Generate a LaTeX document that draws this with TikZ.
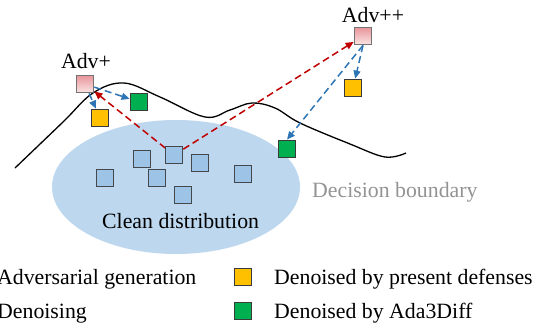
\documentclass[tikz,border=0pt]{standalone}
\usepackage{fontspec}
\setmainfont{Liberation Serif}
\newfontfamily\labelfont{Liberation Serif}
\usetikzlibrary{arrows.meta}
\definecolor{advred}{HTML}{C00000}
\definecolor{denblue}{HTML}{2E75B6}
\definecolor{cleanfill}{HTML}{9DC3E6}
\definecolor{cloud}{HTML}{BDD7EE}
\definecolor{defyellow}{HTML}{FFC000}
\definecolor{adagreen}{HTML}{00B050}
\definecolor{pinktop}{HTML}{E8959A}
\definecolor{pinkbot}{HTML}{FBE4E4}
\definecolor{boxedge}{HTML}{3A3A3A}
\tikzset{
  sq/.style={minimum size=17.5pt, inner sep=0pt, draw=boxedge, line width=1.3pt},
  cleansq/.style={sq, fill=cleanfill, draw=boxedge!90!cleanfill},
  yelsq/.style={sq, fill=defyellow},
  grnsq/.style={sq, fill=adagreen},
  advsq/.style={sq, draw=gray!90!black, line width=1.2pt, top color=pinktop, bottom color=pinkbot},
  lbl/.style={inner sep=0pt, font=\labelfont\fontsize{21.8}{26}\selectfont},
  gen/.style={advred, line width=1.5pt, dash pattern=on 7pt off 4pt, -{Triangle[length=8pt,width=7pt]}},
  den/.style={denblue, line width=1.5pt, dash pattern=on 7pt off 4pt, -{Triangle[length=8pt,width=7pt]}},
}
\begin{document}
\begin{tikzpicture}[x=1pt, y=-1pt]
\useasboundingbox (0,0) rectangle (546,324);

% clean data region
\fill[cloud] (176,187) ellipse [x radius=124, y radius=67];

% decision boundary
\draw[black, line width=1.3pt] plot[smooth, tension=0.6] coordinates
  {(15,168) (63,122) (93,93) (124,83) (160,97) (205,117) (230,110) (252,103)
   (275,108) (300,123) (350,144) (385,157) (406,153)};

% clean samples
\node[cleansq] (c1) at (142,159) {};
\node[cleansq] (c2) at (174,155) {};
\node[cleansq] (c3) at (200,163) {};
\node[cleansq] (c4) at (105,178) {};
\node[cleansq] (c5) at (157,178) {};
\node[cleansq] (c6) at (183,195) {};
\node[cleansq] (c7) at (243,174) {};

% adversarial samples
\node[advsq] (advp) at (85,84) {};
\node[advsq] (advpp) at (363,36) {};
\node[lbl, anchor=base] (advplbl) at (86,68) {Adv+};
\node[lbl, anchor=base] (advpplbl) at (373,22) {Adv++};

% denoised samples
\node[yelsq] (y1) at (100,118) {};
\node[grnsq] (g1) at (139,102) {};
\node[yelsq] (y2) at (353,88) {};
\node[grnsq] (g2) at (287,149) {};

% adversarial generation, drawn from behind the clean sample
\draw[gen] (c2.center) -- (advp);
\draw[gen] (c2.center) -- (advpp);
\node[cleansq] at (c2) {};

% denoising
\draw[den] (advp) -- (y1);
\draw[den] (advp) -- (g1);
\draw[den] (advpp.south) -- (y2);
\draw[den] (advpp.south) -- (g2.north);

% labels
\node[lbl, anchor=base west] (clean) at (102,228) {Clean distribution};
\node[lbl, anchor=base west, text=gray!85] (boundary) at (312,197) {Decision boundary};

% legend
\node[lbl, anchor=base west] (lgen) at (-3,284) {Adversarial generation};
\node[lbl, anchor=base west] (lden) at (-3,318) {Denoising};
\node[yelsq] (ly) at (243,277) {};
\node[grnsq] (lg) at (243,311) {};
\node[lbl, anchor=base west] (lyt) at (274,284) {Denoised by present defenses};
\node[lbl, anchor=base west] (lgt) at (274,318) {Denoised by Ada3Diff};
\end{tikzpicture}
\end{document}
